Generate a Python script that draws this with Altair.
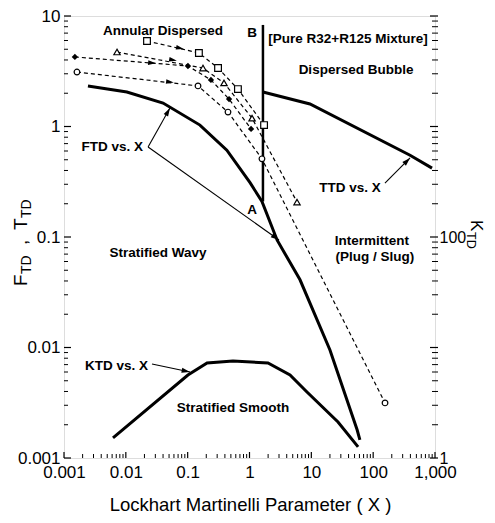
import altair as alt
import pandas as pd

FONT = "Liberation Sans"
W, H = 371, 442

# ---------------- data ----------------
ftd_x = [0.00244, 0.0104, 0.04, 0.158, 0.43, 1.02, 1.59, 2.79, 6.56, 20, 55, 61]
ftd_y = [2.33, 2.05, 1.63, 1.03, 0.61, 0.31, 0.21, 0.094, 0.041, 0.0095, 0.0018, 0.00146]
ttd_x = [1.65, 9.5, 395, 895]
ttd_y = [2.05, 1.6, 0.55, 0.42]
ktd_x = [0.0062, 0.101, 0.206, 0.54, 1.99, 4.52, 8.5, 27, 57]
ktd_k = [1.52, 5.64, 7.24, 7.55, 7.24, 5.64, 3.96, 2.12, 1.26]
b_x, b_bottom, b_top = 1.65, 0.21, 8.3

sq_x = [0.022, 0.152, 0.31, 0.65, 1.72]
sq_y = [5.94, 4.63, 3.38, 2.18, 1.03]
tri_x = [0.0072, 0.177, 0.387, 1.1, 5.87]
tri_y = [4.72, 3.38, 2.48, 1.19, 0.207]
dia_x = [0.0015, 0.101, 0.238, 0.467, 1.06]
dia_y = [4.26, 3.53, 2.64, 1.77, 0.95]
cir_x = [0.00162, 0.147, 0.449, 1.59, 155.5]
cir_y = [3.11, 2.33, 1.35, 0.51, 0.00315]

# flow arrows on the dashed series
flow_x = [0.075, 0.058, 0.0265, 0.0517]
flow_y = [5.13, 4.0, 3.76, 2.53]
flow_angle = [103, 100, 95, 97]

# annotation pointers (from label to curve)
ann_x = [0.0229, 0.0229, 155, 0.0265]
ann_y = [0.652, 0.652, 0.308, 0.0071]
ann_x2 = [0.0517, 3.0, 395, 0.109]
ann_y2 = [1.47, 0.094, 0.519, 0.006]
ann_angle = [29, 125, 45, 102]

center_text = ["Annular Dispersed", "B", "[Pure R32+R125 Mixture]", "Dispersed Bubble", "A",
               "Stratified Wavy", "Intermittent", "(Plug / Slug)", "Stratified Smooth", "TTD vs. X"]
center_tx = [0.0399, 1.1, 39.2, 52.8, 1.1, 0.0331, 95.7, 107, 0.54, 42.3]
center_ty = [7.32, 7.0, 6.19, 3.25, 0.175, 0.0716, 0.092, 0.0659, 0.00283, 0.277]
right_text = ["FTD vs. X", "KTD vs. X"]
right_tx = [0.019, 0.0229]
right_ty = [0.652, 0.0068]

x_major = [0.001, 0.01, 0.1, 1, 10, 100, 1000]
x_minor = [m * 10.0 ** e for e in range(-3, 3) for m in range(2, 10)]
y_major = [0.001, 0.01, 0.1, 1, 10]
y_minor = [m * 10.0 ** e for e in range(-3, 1) for m in range(2, 10)]
k_major = [1, 10, 100, 1000, 10000]
k_minor = [m * 10.0 ** e for e in range(0, 4) for m in range(2, 10)]
k_labels = [1, 100]

# ---------------- scales & axes ----------------
xs = alt.Scale(type="log", domain=[0.001, 1000], nice=False)
ys = alt.Scale(type="log", domain=[0.001, 10], nice=False)
ks = alt.Scale(type="log", domain=[1, 10000], nice=False)

x_axis = alt.Axis(values=x_major, format=",~g", labelFontSize=17, labelFont=FONT,
                  labelColor="black", labelFlush=False, labelOverlap=False, orient="bottom",
                  ticks=False, domain=False, grid=False, labelPadding=6, title=None)
y_axis = alt.Axis(values=y_major, format="~g", labelFontSize=17, labelFont=FONT, orient="left",
                  labelColor="black", labelOverlap=False, ticks=False, domain=False,
                  grid=False, labelPadding=4, title=None)
k_axis = alt.Axis(values=k_labels, format="~g", labelFontSize=16, labelFont=FONT, labelColor="black",
                  orient="right", labelOverlap=False, ticks=False, domain=False, grid=False,
                  labelPadding=4, title=None)


def X(f="x"):
    return alt.X(f + ":Q", scale=xs, axis=x_axis)


def Y(f="y"):
    return alt.Y(f + ":Q", scale=ys, axis=y_axis)


def K(f="k"):
    return alt.Y(f + ":Q", scale=ks, axis=k_axis)


def series(xv, yv, name):
    return pd.DataFrame({"x": xv, "y": yv, "s": name, "o": list(range(len(xv)))})


curves = pd.concat([series(ftd_x, ftd_y, "FTD"), series(ttd_x, ttd_y, "TTD")])
dashed = pd.concat([series(sq_x, sq_y, "sq"), series(tri_x, tri_y, "tri"),
                    series(dia_x, dia_y, "dia"), series(cir_x, cir_y, "cir")])

curve_layer = alt.Chart(curves).mark_line(color="black", strokeWidth=3).encode(
    x=X(), y=Y(), detail="s:N", order="o:Q")

b_layer = alt.Chart(pd.DataFrame({"x": [b_x], "y": [b_bottom], "y2": [b_top]})).mark_rule(
    color="black", strokeWidth=2.5).encode(x=X(), y=Y(), y2="y2:Q")

dash_layer = alt.Chart(dashed).mark_line(color="black", strokeWidth=1.2, strokeDash=[4, 3]).encode(
    x=X(), y=Y(), detail="s:N", order="o:Q")

sq_pts = alt.Chart(series(sq_x, sq_y, "sq")).mark_point(
    shape="square", filled=True, fill="white", stroke="black", strokeWidth=1.2, size=45, opacity=1
).encode(x=X(), y=Y())
tri_pts = alt.Chart(series(tri_x, tri_y, "tri")).mark_point(
    shape="triangle-up", filled=True, fill="white", stroke="black", strokeWidth=1.2, size=40, opacity=1
).encode(x=X(), y=Y())
dia_pts = alt.Chart(series(dia_x, dia_y, "dia")).mark_point(
    shape="diamond", filled=True, color="black", size=40, opacity=1
).encode(x=X(), y=Y())
cir_pts = alt.Chart(series(cir_x, cir_y, "cir")).mark_point(
    shape="circle", filled=True, fill="white", stroke="black", strokeWidth=1.2, size=32, opacity=1
).encode(x=X(), y=Y())

flow = alt.Chart(pd.DataFrame({"x": flow_x, "y": flow_y, "a": flow_angle})).mark_point(
    shape="M0,-1L0.6,1L-0.6,1Z", filled=True, color="black", size=60, opacity=1
).encode(x=X(), y=Y(), angle=alt.Angle("a:Q", scale=None))

ann = pd.DataFrame({"x": ann_x, "y": ann_y, "x2": ann_x2, "y2": ann_y2, "a": ann_angle})
ann_lines = alt.Chart(ann).mark_rule(color="black", strokeWidth=1.1).encode(
    x=X(), y=Y(), x2="x2:Q", y2="y2:Q")
ann_heads = alt.Chart(ann).mark_point(
    shape="M0,0L0.6,2L-0.6,2Z", filled=True, color="black", size=70, opacity=1
).encode(x=X("x2"), y=Y("y2"), angle=alt.Angle("a:Q", scale=None))

ctext = alt.Chart(pd.DataFrame({"t": center_text, "x": center_tx, "y": center_ty})).mark_text(
    font=FONT, fontSize=13.5, fontWeight="bold", color="black", align="center", baseline="middle"
).encode(x=X(), y=Y(), text="t:N")
rtext = alt.Chart(pd.DataFrame({"t": right_text, "x": right_tx, "y": right_ty})).mark_text(
    font=FONT, fontSize=13.5, fontWeight="bold", color="black", align="right", baseline="middle"
).encode(x=X(), y=Y(), text="t:N")

# custom inward ticks
left_major = alt.Chart(pd.DataFrame({"y": y_major})).mark_rule(color="black", strokeWidth=1.2).encode(
    y=Y(), x=alt.value(0), x2=alt.value(7))
left_minor = alt.Chart(pd.DataFrame({"y": y_minor})).mark_rule(color="black", strokeWidth=1).encode(
    y=Y(), x=alt.value(0), x2=alt.value(4))
bot_major = alt.Chart(pd.DataFrame({"x": x_major})).mark_rule(color="black", strokeWidth=1.2).encode(
    x=X(), y=alt.value(H), y2=alt.value(H - 6))
bot_minor = alt.Chart(pd.DataFrame({"x": x_minor})).mark_rule(color="black", strokeWidth=1).encode(
    x=X(), y=alt.value(H), y2=alt.value(H - 4))

# axis titles as text (with subscripts)
one = pd.DataFrame({"a": [0]})


def ptext(t, px, py, size, angle, align="left", baseline="alphabetic"):
    return alt.Chart(one).mark_text(
        text=t, font=FONT, fontSize=size, color="black", angle=angle, align=align, baseline=baseline
    ).encode(x=alt.value(px), y=alt.value(py))


ytitle = [
    ptext("F", -37, 270, 19, 270),
    ptext("TD", -33, 258, 14, 270),
    ptext(",", -37, 229, 19, 270),
    ptext("T", -37, 214, 19, 270),
    ptext("TD", -33, 202, 14, 270),
]
xtitle = ptext("Lockhart Martinelli Parameter  ( X )", W / 2 + 1, 489, 18.5, 0, "center", "middle")
ktitle = [
    ptext("K", 407, 204, 17, 90),
    ptext("TD", 403, 216, 12.5, 90),
]

f_group = alt.layer(curve_layer, b_layer, dash_layer, ann_lines, ann_heads, flow,
                    sq_pts, tri_pts, dia_pts, cir_pts, ctext, rtext,
                    left_major, left_minor, bot_major, bot_minor, xtitle, *ytitle, *ktitle)

ktd_layer = alt.Chart(pd.DataFrame({"x": ktd_x, "k": ktd_k, "o": list(range(len(ktd_x)))})).mark_line(
    color="black", strokeWidth=3).encode(x=X(), y=K(), order="o:Q")
right_major = alt.Chart(pd.DataFrame({"k": k_major})).mark_rule(color="black", strokeWidth=1.2).encode(
    y=K(), x=alt.value(W - 5), x2=alt.value(W + 3))
right_minor = alt.Chart(pd.DataFrame({"k": k_minor})).mark_rule(color="black", strokeWidth=1).encode(
    y=K(), x=alt.value(W - 3), x2=alt.value(W + 3))
k_group = alt.layer(ktd_layer, right_major, right_minor)

chart = alt.layer(f_group, k_group).resolve_scale(y="independent").properties(
    width=W, height=H,
    padding={"left": 56, "top": 8, "right": 52, "bottom": 57},
    autosize=alt.AutoSizeParams(type="none"),
    background="white",
).configure_view(stroke="black", strokeWidth=2).configure(font=FONT)

chart.save("out.html", embed_options={"renderer": "svg", "actions": False})
